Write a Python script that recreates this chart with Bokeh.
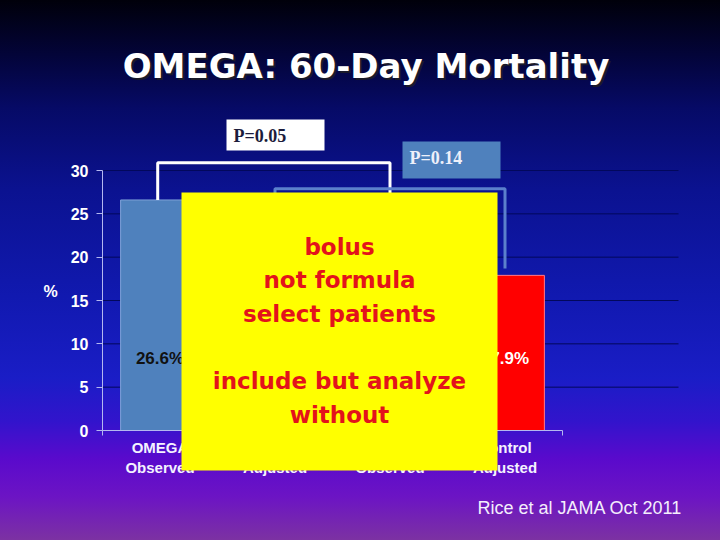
from bokeh.plotting import figure
from bokeh.models import (Range1d, FixedTicker, BoxAnnotation, Label,
                          InlineStyleSheet, ColumnDataSource)
from bokeh.core.properties import value
from bokeh.embed import file_html
from bokeh.resources import INLINE

# ---------------- data ----------------
categories = ["OMEGA\nObserved", "OMEGA\nAdjusted", "Control\nObserved", "Control\nAdjusted"]
mortality = [26.6, 24.9, 16.3, 17.9]
value_labels = ["26.6%", "24.9%", "16.3%", "17.9%"]
y_ticks = [0, 5, 10, 15, 20, 25, 30]
comparisons = [(0, 2), (1, 3)]
p_values = ["P=0.05", "P=0.14"]
box_lines = ["bolus", "not formula", "select patients", "", "include but analyze", "without"]
title_text = "OMEGA: 60-Day Mortality"
y_label = "%"
source_text = "Rice et al JAMA Oct 2011"

# ---------------- styles / layout ----------------
bar_fill = ["#4f81bd", "#4f81bd", "#ff0000", "#ff0000"]
bar_edge = ["#7fa3d8", "#7fa3d8", "#ff7a8a", "#ff7a8a"]
label_col = ["#111111", "#111111", "#ffffff", "#ffffff"]
AXIS_COL = "#b4b8f0"
FONT = "Liberation Sans"
WIDE = "DejaVu Sans"
W, H = 720, 540

# slide pixel -> data conversion helpers (layout of slide decorations)
X0, PX_CAT, Y0, PX_PCT = 102.0, 115.0, 430.0, 260.0 / 30.0
def dx(px):
    return (px - X0) / PX_CAT
def dy(py):
    return (Y0 - py) / PX_PCT

centers = [i + 0.5 for i in range(len(categories))]

p = figure(width=W, height=H,
           x_range=Range1d(dx(0), dx(W)), y_range=Range1d(dy(H), dy(0)),
           output_backend="svg", toolbar_location=None, min_border=0,
           background_fill_alpha=0, border_fill_alpha=0,
           outline_line_color=None)

p.stylesheets = [InlineStyleSheet(css=""":host { background: linear-gradient(to bottom,
    #00000a 0%, #030438 10%, #060a66 20%, #0b1290 35%, #1119b0 55%,
    #1a1dc6 70%, #3214cc 78%, #5a0acc 85%, #6c14c4 92%, #7c32a2 100%); }""")]

# grid (drawn as segments so it stops at the chart's right edge)
p.xgrid.visible = False
p.ygrid.visible = False
grid_vals = y_ticks[1:]
p.segment(x0=[0] * len(grid_vals), x1=[dx(678)] * len(grid_vals),
          y0=grid_vals, y1=grid_vals, line_color="#02085c", line_width=1)

# y axis
p.yaxis.fixed_location = 0
p.yaxis.ticker = FixedTicker(ticks=y_ticks)
p.yaxis.bounds = (0, 30)
p.yaxis.axis_line_color = AXIS_COL
p.yaxis.major_tick_line_color = AXIS_COL
p.yaxis.major_tick_out = 6
p.yaxis.major_tick_in = 0
p.yaxis.minor_tick_line_color = None
p.yaxis.major_label_text_font = FONT
p.yaxis.major_label_text_font_size = "16px"
p.yaxis.major_label_text_font_style = "bold"
p.yaxis.major_label_text_color = "#ffffff"
p.yaxis.major_label_standoff = 8
p.add_layout(Label(x=dx(50), y=dy(291), text=y_label, text_font=FONT,
                   text_font_style="bold", text_font_size="16px", text_color="#ffffff",
                   text_align="center", text_baseline="middle"))

# x axis
p.xaxis.fixed_location = 0
p.xaxis.ticker = FixedTicker(ticks=centers, minor_ticks=[0, 1, 2, 3, 4])
p.xaxis.bounds = (0, 4)
p.xaxis.major_label_overrides = {c: lab for c, lab in zip(centers, categories)}
p.xaxis.axis_line_color = AXIS_COL
p.xaxis.major_tick_line_color = None
p.xaxis.major_tick_out = 0
p.xaxis.major_tick_in = 0
p.xaxis.minor_tick_line_color = AXIS_COL
p.xaxis.minor_tick_out = 5
p.xaxis.minor_tick_in = 0
p.xaxis.major_label_text_font = FONT
p.xaxis.major_label_text_font_size = "15px"
p.xaxis.major_label_text_font_style = "bold"
p.xaxis.major_label_text_color = "#f4f2ff"
p.xaxis.major_label_standoff = 3

# bars
src = ColumnDataSource(dict(x=centers, top=mortality, fill=bar_fill, edge=bar_edge,
                            lab=value_labels, labcol=label_col,
                            ly=[8.3] * len(centers)))
p.vbar(x="x", top="top", width=0.685, bottom=0, fill_color="fill",
       line_color="edge", line_width=1, source=src)
p.text(x="x", y="ly", text="lab", text_color="labcol", text_align="center",
       text_baseline="middle", text_font=value(FONT), text_font_style="bold",
       text_font_size="17px", source=src)

# significance brackets
bracket_levels = [30.9, 27.9]
bracket_cols = ["#ffffff", "#5b80cc"]
xs, ys = [], []
for (a, b), lvl in zip(comparisons, bracket_levels):
    xs.append([centers[a], centers[a], centers[b], centers[b]])
    ys.append([mortality[a] + 0.8 * (a == 1), lvl, lvl, mortality[b] + 0.8])
xs[0][0] = xs[0][1] = centers[0] - 0.02
ys[0][0] = mortality[0]
p.multi_line(xs=xs, ys=ys, line_color=bracket_cols, line_width=3)

# p-value boxes
pbox = [(226, 324, 119, 150, "#ffffff", "#1c1c3c", 233, 135),
        (402, 500, 141, 178, "#4f81bd", "#eef0fa", 409, 157)]
for (l, r, t, b, fc, tc, tx, ty), txt in zip(pbox, p_values):
    p.add_layout(BoxAnnotation(left=dx(l), right=dx(r), top=dy(t), bottom=dy(b),
                               fill_color=fc, fill_alpha=1, line_color=None))
    p.add_layout(Label(x=dx(tx), y=dy(ty), text=txt, text_font="Liberation Serif",
                       text_font_style="bold", text_font_size="18px",
                       text_color=tc, text_align="left", text_baseline="middle"))

# yellow overlay box
p.add_layout(BoxAnnotation(left=dx(181), right=dx(497), top=dy(192), bottom=dy(470),
                           fill_color="#ffff00", fill_alpha=1, line_color=None))
for i, line in enumerate(box_lines):
    if line:
        p.add_layout(Label(x=dx(339), y=dy(246 + i * 33.6), text=line, text_font=WIDE,
                           text_font_style="bold", text_font_size="23px",
                           text_color="#e3131b", text_align="center",
                           text_baseline="middle"))

# title with shadow
p.add_layout(Label(x=dx(367.5), y=dy(67.5), text=title_text, text_font=WIDE,
                   text_font_style="bold", text_font_size="34px", text_color="#1a1a2a",
                   text_align="center", text_baseline="middle"))
p.add_layout(Label(x=dx(365.5), y=dy(65.5), text=title_text, text_font=WIDE,
                   text_font_style="bold", text_font_size="34px", text_color="#ffffff",
                   text_align="center", text_baseline="middle"))

# source
p.add_layout(Label(x=dx(477), y=dy(507), text=source_text, text_font=FONT,
                   text_font_size="18px", text_color="#f4eefc",
                   text_align="left", text_baseline="middle"))

open("out.html", "w").write(file_html(p, INLINE))
